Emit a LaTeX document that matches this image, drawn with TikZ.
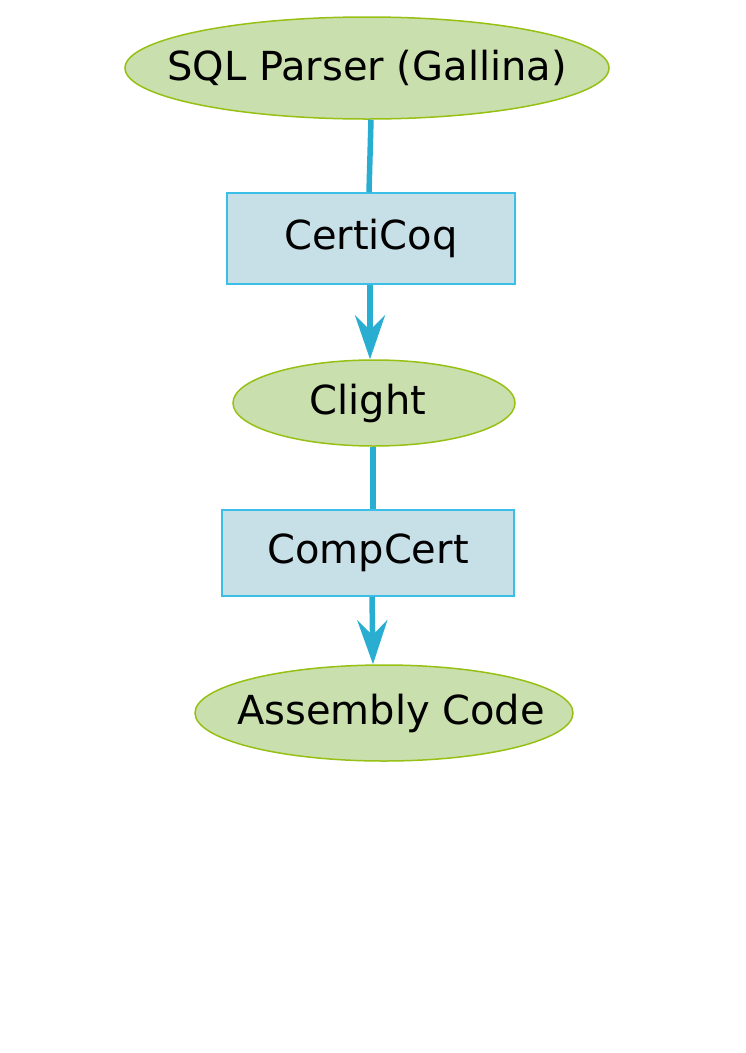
\documentclass[tikz,border=0pt]{standalone}
\usepackage{fontspec}
\setmainfont{DejaVu Sans}
\usetikzlibrary{shapes.geometric,arrows.meta}

\definecolor{langfill}{RGB}{201,223,174}
\definecolor{langline}{RGB}{150,192,20}
\definecolor{toolfill}{RGB}{199,223,230}
\definecolor{toolline}{RGB}{59,190,232}
\definecolor{edgeblue}{RGB}{41,174,210}

\begin{document}
\begin{tikzpicture}[x=1pt, y=-1pt,
  font=\fontsize{40}{48}\selectfont,
  lang/.style={ellipse, draw=langline, fill=langfill, line width=1.5pt, inner sep=0pt},
  tool/.style={rectangle, draw=toolline, fill=toolfill, line width=1.5pt, inner sep=0pt},
  pass/.style={draw=edgeblue, line width=5.5pt},
  >={Stealth[length=44pt, width=30pt, inset=15pt]}]

  % page frame
  \useasboundingbox (0,0) rectangle (745,1053);

  % source program
  \node[lang, minimum width=484pt, minimum height=102pt] (sql) at (367,68) {\makebox[0pt]{\raisebox{-2pt}{SQL Parser (Gallina)}}};

  % first compiler
  \node[tool, minimum width=288pt, minimum height=91pt] (certicoq) at (371,238.5) {CertiCoq};

  % intermediate language
  \node[lang, minimum width=282pt, minimum height=86pt] (clight) at (374,403) {\makebox[0pt]{\hspace*{-12pt}Clight}};

  % second compiler
  \node[tool, minimum width=292pt, minimum height=86pt] (compcert) at (368,553) {CompCert};

  % target
  \node[lang, minimum width=378pt, minimum height=96pt] (asm) at (384,713) {\makebox[0pt]{\hspace*{14pt}Assembly Code}};

  % edges
  \draw[pass] ([xshift=4pt]sql.south) -- ([xshift=-2pt]certicoq.north);
  \draw[pass, ->] ([xshift=-1pt]certicoq.south) -- ([xshift=-4pt]clight.north);
  \draw[pass] ([xshift=-1pt]clight.south) -- ([xshift=5pt]compcert.north);
  \draw[pass, ->] ([xshift=4pt]compcert.south) -- ([xshift=-11pt]asm.north);

\end{tikzpicture}
\end{document}
